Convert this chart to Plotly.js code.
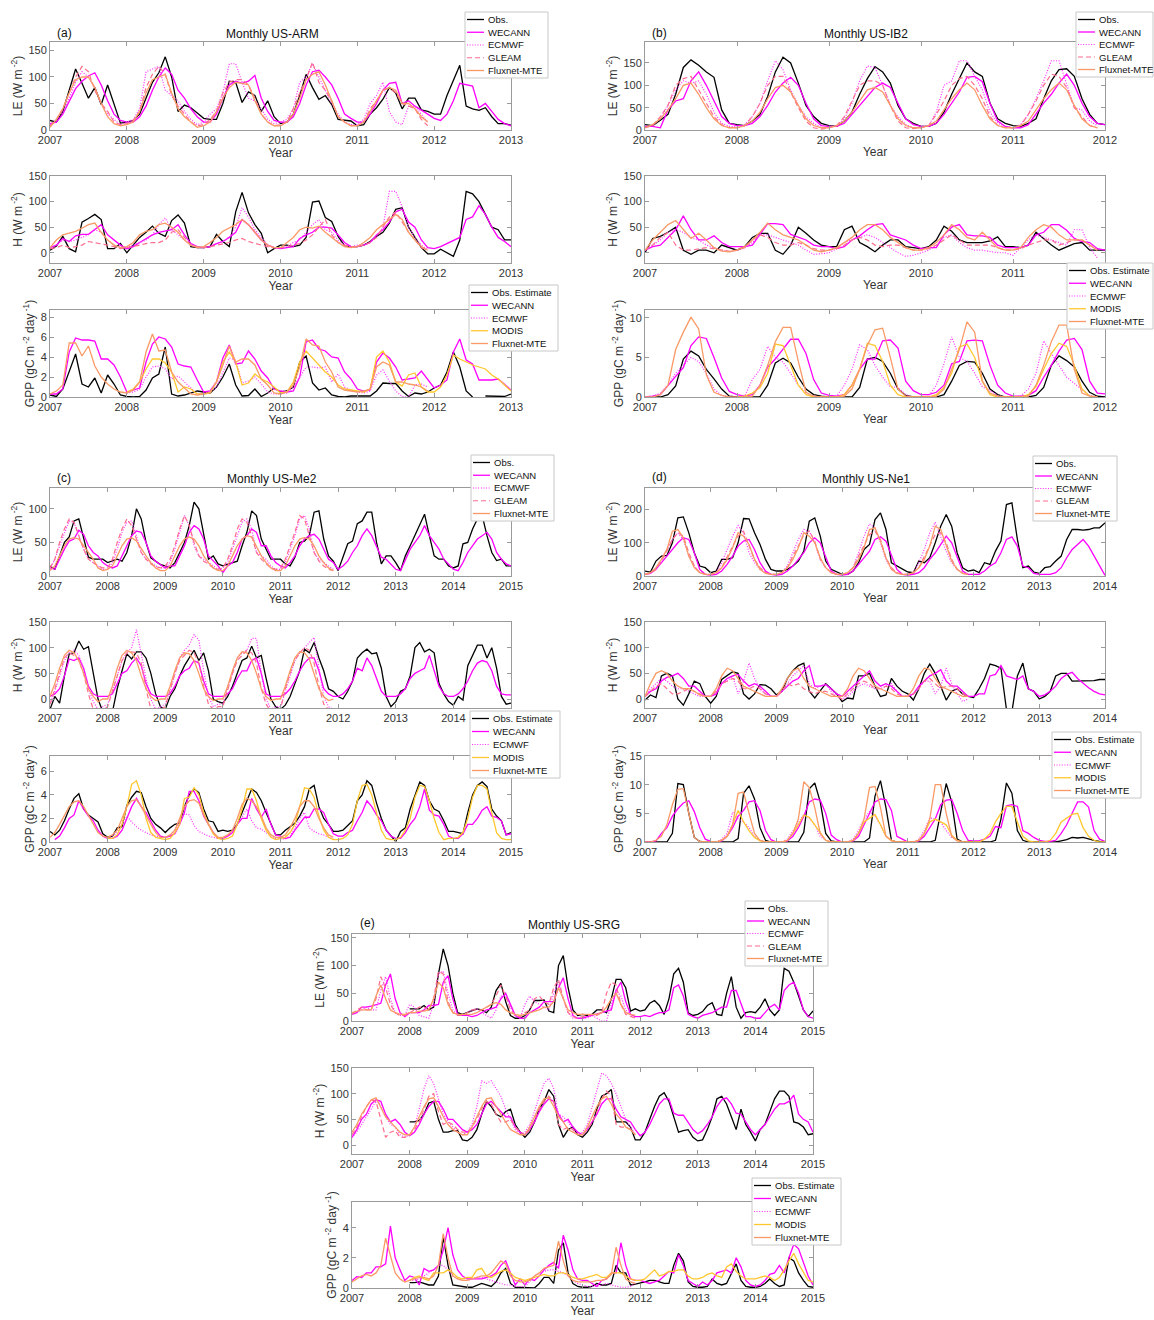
<!DOCTYPE html>
<html><head><meta charset="utf-8">
<script src="https://cdn.plot.ly/plotly-3.0.1.min.js"></script>
<style>body{margin:0;background:#fff}#chart{width:1154px;height:1320px}</style>
</head><body><div id="chart"></div>
<script>
// ---------------- names / ticks ----------------
const FLUX_NAMES = ['Obs.','WECANN','ECMWF','GLEAM','Fluxnet-MTE'];
const GPP_NAMES  = ['Obs. Estimate','WECANN','ECMWF','MODIS','Fluxnet-MTE'];
const YEARS_A = [2007,2008,2009,2010,2011,2012,2013];
const YEARS_B = [2007,2008,2009,2010,2011,2012];
const YEARS_C = [2007,2008,2009,2010,2011,2012,2013,2014,2015];
const YEARS_D = [2007,2008,2009,2010,2011,2012,2013,2014];
const YEARS_E = [2007,2008,2009,2010,2011,2012,2013,2014,2015];

// ---------------- (a) US-ARM (monthly from Jan 2007) ----------------
const aLE_obs=[18,15,35,75,115,88,60,80,48,85,50,13, 15,18,30,60,90,108,138,100,35,47,42,32, 22,20,20,50,92,90,52,72,65,35,55,25, 12,15,30,65,105,80,58,65,48,20,18,17, 8,10,30,42,58,80,70,40,60,60,38,35, 30,30,65,92,122,45,40,37,42,25,12,12, 9];
const aLE_wec=[12,15,30,55,78,92,102,108,85,55,30,18, 15,15,25,45,75,100,117,105,75,60,40,25, 15,15,30,60,85,92,88,92,103,60,35,18, 15,15,25,50,85,110,113,100,85,60,30,22, 15,15,30,50,75,88,90,50,55,45,38,30, 22,18,30,55,88,85,83,42,50,35,20,12, 8];
const aLE_ecm=[10,20,35,60,90,110,100,80,50,30,20,10, 15,20,40,110,115,120,75,65,55,35,20,10, 15,30,40,70,125,125,90,60,55,40,20,12, 15,20,40,90,100,125,100,75,50,30,15,10, 10,20,50,65,90,35,15,10,45,45,30,15];
const aLE_glm=[8,20,40,70,100,120,110,75,50,35,15,10, 12,18,35,80,105,120,105,65,45,30,15,8, 10,20,35,70,90,95,95,85,60,30,15,8, 10,15,40,70,95,128,90,75,55,25,15,8, 8,15,40,55,75,80,70,50,45,40,20,8];
const aLE_mte=[5,20,40,70,95,100,100,80,50,25,12,8, 10,15,35,70,95,100,105,70,40,25,15,5, 8,15,35,60,80,90,88,85,55,30,15,8, 8,15,30,60,95,105,110,85,55,25,15,8, 8,15,35,55,75,80,75,50,50,40,25,15];

const aH_obs=[5,13,32,8,2,60,67,75,65,8,8,18, 0,15,30,40,52,38,32,63,74,58,12,10, 10,12,36,22,12,80,118,78,55,38,0,8, 15,15,12,15,30,99,101,69,61,32,14,12, 12,15,22,32,40,58,85,88,50,30,10,-2, -2,7,0,-7,25,120,115,100,75,50,45,25, 25];
const aH_wec=[10,15,28,22,33,36,36,45,55,35,25,15, 8,12,20,27,35,40,42,45,55,35,18,12, 10,12,18,22,30,40,65,55,40,25,15,10, 8,10,12,28,35,40,50,50,48,35,20,12, 12,15,20,35,45,60,80,85,60,50,25,10, 8,12,18,24,30,65,70,92,75,50,30,22, 12];
const aH_ecm=[10,15,25,22,25,30,35,45,40,25,15,10, 10,15,20,25,35,55,68,45,35,25,15,10, 10,12,18,22,30,50,88,70,45,30,15,10, 10,12,20,25,40,55,65,45,40,25,15,12, 15,15,20,30,50,120,120,90,50,30,15,5];
const aH_glm=[8,10,15,10,12,15,22,20,18,15,12,8, 10,12,15,18,20,20,25,40,45,30,15,12, 10,12,15,18,20,25,28,22,18,15,12,10, 10,12,15,18,25,35,50,65,35,20,15,12, 12,15,20,30,50,70,80,60,40,25,10,5];
const aH_mte=[10,25,35,38,42,48,55,58,40,25,15,10, 12,20,35,42,45,55,58,50,40,25,15,10, 12,20,30,42,48,55,65,55,40,25,15,10, 10,20,30,45,50,48,52,40,30,20,12,10, 12,20,30,45,55,65,75,65,40,25,12,5];

const aGPP_obs=[0.2,0.05,0.8,2.5,4.3,1.3,1.0,1.9,0.4,2.2,1.3,0.2, 0.05,0.02,0.05,0.7,1.9,2.3,5.0,0.3,0.1,0.2,0.4,0.6, 0.5,0.4,1.0,2.0,3.3,1.2,0.1,0.15,0.8,0.05,0.4,0.9, 0.5,0.6,1.0,3.5,4.1,1.4,0.7,0.9,0.2,0.05,0.0,0.1, 0.1,0.1,0.1,0.6,1.4,1.35,1.35,0.6,0.05,0.4,0.3,0.5, 0.9,1.2,2.5,4.5,3.0,0.6,0.0,null,0.1,0.1,0.05,0.05, 0.3];
const aGPP_wec=[0.3,0.3,0.8,4.5,5.9,5.7,5.7,5.6,3.8,3.8,3.2,2.0, 0.5,0.7,0.9,3.5,5.3,6.0,5.8,5.0,3.3,3.1,3.0,1.7, 0.5,0.6,1.5,3.9,5.2,3.3,3.4,4.6,3.8,2.6,1.9,0.8, 0.6,0.5,0.6,2.0,5.5,5.7,4.8,4.6,4.0,3.9,2.5,1.8, 0.8,0.6,0.7,3.5,4.4,3.9,3.0,1.7,1.8,1.9,2.6,1.7, 0.9,1.2,1.7,4.5,5.8,3.7,3.3,1.7,1.7,1.7,1.8,1.2, 0.7];
const aGPP_ecm=[null,null,null,null,null,null,null,null,null,null,null,null, 0.4,0.5,0.8,2.0,3.0,3.1,2.8,1.8,2.1,1.5,0.8,0.3, 0.4,0.5,1.0,2.5,3.9,3.7,1.4,1.6,2.0,1.3,0.5,0.3, 0.3,0.4,1.0,2.0,3.0,3.0,2.9,3.0,1.5,2.3,1.0,0.7, 0.5,0.4,0.6,2.2,2.7,1.6,0.6,0.05,0.0,1.2,1.3,1.0];
const aGPP_mod=[null,null,null,null,null,null,null,null,null,null,null,null, 0.5,0.8,1.5,2.8,3.8,3.8,3.4,2.5,0.5,1.0,0.8,0.3, 0.3,0.4,1.5,3.5,4.5,3.5,1.2,1.4,2.3,1.8,1.5,1.0, 0.4,0.5,1.5,3.5,4.6,3.9,3.3,2.5,2.0,1.2,0.8,0.7, 0.6,0.5,0.8,4.0,4.6,3.5,1.5,1.1,2.2,2.4,1.0,0.5, 0.5,1.0,2.2,4.2,3.8,3.5,3.2,3.0,2.8,2.2,1.8,1.2, 0.6];
const aGPP_mte=[0.3,0.6,1.2,5.4,5.4,4.1,5.1,3.1,2.0,1.3,0.8,0.5, 0.4,0.7,1.5,4.5,6.3,4.6,4.7,2.5,1.5,0.9,0.3,0.2, 0.3,0.5,1.5,3.2,5.1,3.5,3.8,3.8,3.2,1.8,1.2,0.4, 0.3,0.5,1.2,3.0,5.8,5.2,5.1,3.5,2.5,1.0,0.7,0.6, 0.5,0.6,0.8,3.0,3.5,3.2,1.5,1.5,1.3,1.2,1.0,0.6];

// ---------------- (b) US-IB2 ----------------
const bLE_obs=[12,10,22,35,80,140,157,145,130,118,45,15, 12,10,20,35,75,130,163,150,105,55,30,15, 10,8,20,40,80,115,142,130,105,55,25,15, 8,8,15,40,80,115,150,130,120,60,25,15, 10,8,15,25,70,110,135,137,120,70,35,15, 12];
const bLE_wec=[8,8,5,45,65,70,110,130,100,65,30,15, 10,10,15,30,55,85,105,118,100,60,25,10, 8,8,15,35,55,75,95,105,95,60,25,12, 8,8,15,35,60,85,118,120,108,60,20,8, 5,5,12,35,60,80,105,125,100,60,30,15, 12];
const bLE_ecm=[5,10,25,55,90,110,105,110,80,40,15,8, 8,12,30,60,110,155,135,90,55,30,15,5, 5,10,25,60,110,143,140,100,55,30,12,5, 5,10,40,100,110,155,155,120,90,40,15,8, 5,12,35,70,110,155,155,105,50,45,20,10];
const bLE_glm=[5,10,30,55,100,115,120,90,60,30,12,5, 5,10,30,60,100,120,120,85,50,20,5,2, 5,10,30,65,100,110,110,100,55,20,5,3, 5,10,35,65,100,115,120,100,70,30,10,5, 5,10,35,65,100,125,120,95,50,30,10,5];
const bLE_mte=[5,12,25,45,70,100,105,80,50,25,10,5, 5,10,20,40,70,95,100,85,55,25,10,5, 5,10,20,40,65,90,95,85,55,25,10,5, 5,10,20,45,70,90,105,90,55,25,10,5, 5,10,20,45,70,90,105,90,55,25,10,5];

const bH_obs=[0,28,32,40,50,5,-3,5,5,0,15,10, 5,12,30,38,38,5,-3,15,50,38,25,15, 12,12,45,52,20,12,2,15,25,25,12,10, 8,12,25,52,42,25,20,20,20,23,31,12, 12,10,15,40,28,15,5,12,18,20,5,5, 5];
const bH_wec=[5,12,15,30,45,72,45,25,25,33,20,12, 12,12,15,35,57,57,55,36,31,25,15,12, 12,8,12,25,33,45,55,57,35,30,25,15, 8,10,10,35,50,55,35,33,33,30,15,10, 10,10,15,35,40,55,55,44,28,22,20,8, 5];
const bH_ecm=[5,15,25,40,45,40,30,25,15,10,5,2, 5,10,20,35,35,30,25,20,15,5,-3,-2, 0,8,20,25,30,35,30,20,10,0,-7,-5, 0,5,15,30,35,20,10,5,5,3,0,0, -5,10,25,35,30,25,20,15,45,45,10,-10];
const bH_glm=[5,15,30,40,15,5,5,8,10,8,5,3, 5,10,25,35,30,20,15,15,20,15,8,5, 5,8,15,25,30,25,15,12,15,15,10,5, 5,8,15,25,35,25,15,15,15,15,10,5, 5,8,15,20,25,25,15,20,25,25,15,5];
const bH_mte=[5,25,40,55,63,45,28,38,25,10,3,2, 5,12,25,40,58,45,35,30,25,15,5,2, 5,10,20,30,45,55,55,45,30,20,10,5, 5,10,20,35,55,45,30,25,40,25,10,5, 5,10,30,45,55,50,35,25,25,25,15,5];

const bGPP_obs=[0,0,0,0.3,1.4,4.8,5.8,5.2,3.5,2.3,1.0,0.1, 0,0,0,0.05,1.5,4.3,4.9,4.3,2.5,1.0,0.3,0.1, 0,0,0,0,1.2,4.8,5.0,4.5,3.0,1.0,0.2,0, 0,0,0,0.3,2.0,4.0,4.5,4.4,3.0,1.0,0.3,0, 0,0,0,0.2,1.2,4.0,5.2,4.6,3.8,2.0,0.6,0.1, 0];
const bGPP_wec=[0,0.1,0.3,1.5,2.6,3.7,6.5,7.6,7.4,5.0,2.4,0.7, 0.3,0.1,0.3,1.5,3.8,4.8,6.0,7.3,7.3,5.5,2.2,0.5, 0.2,0.1,0.3,1.5,3.5,4.8,4.8,7.1,7.2,6.2,2.0,0.8, 0.3,0.3,0.6,1.5,4.2,4.5,7.1,7.2,7.1,4.0,1.5,0.5, 0.1,0.1,0.2,0.8,2.5,4.0,5.8,7.2,7.4,6.0,2.0,0.5, 0.4];
const bGPP_ecm=[0,0.1,0.5,1.5,3.0,4.0,5.0,4.5,3.0,1.0,0.2,0, 0,0.1,2.2,3.5,6.4,5.0,4.4,3.0,1.5,0.5,0.1,0, 0,0.1,1.5,3.5,6.6,6.0,4.0,2.5,1.3,1.2,0.3,0, 0,0.1,1.5,4.2,7.6,5.0,4.5,3.0,1.3,0.8,0.2,0, 0,0.1,1.0,3.0,7.1,5.5,4.0,2.5,1.7,1.0,0.2,0];
const bGPP_mod=[null,null,null,null,null,null,null,null,null,null,null,null, 0,0.1,0.5,1.2,3.0,6.7,6.5,4.0,1.5,0.3,0,0, 0,0,0.3,1.5,3.5,6.8,6.5,4.5,1.5,0.3,0,0, 0,0,0.3,1.2,3.0,6.3,6.7,5.0,2.0,0.3,0,0, 0,0,0.3,1.3,3.5,5.5,6.8,6.4,4.0,1.0,0.1,0];
const bGPP_mte=[0,0,0.3,1.5,6.0,8.2,10.1,8.6,2.8,0.6,0.2,0, 0,0,0.1,1.5,4.0,7.0,8.8,8.8,4.5,0.6,0.1,0, 0,0,0.1,1.0,3.5,6.5,8.5,8.7,5.0,1.0,0.1,0, 0,0,0.1,1.0,3.5,6.0,9.5,8.2,2.0,0.5,0.1,0, 0,0,0.1,1.5,4.0,7.0,9.1,9.1,3.5,0.5,0.1,0];

// ---------------- (c) US-Me2 ----------------
const cLE_obs=[15,10,30,50,58,82,85,55,28,25,25,25, 20,22,25,22,35,60,100,85,50,27,22,17, 15,12,20,35,50,75,110,100,60,25,30,18, 15,17,20,22,45,65,97,90,55,40,25,25, 25,18,15,28,50,52,60,95,97,55,30,22, 8,28,48,52,78,82,95,95,50,18,30,30, 20,8,30,45,60,75,92,60,30,25,25,15, 12,15,48,50,70,85,90,60,35,23,25,15, 15];
const cLE_wec=[12,10,25,40,52,55,68,62,45,35,30,20, 15,12,15,30,45,60,67,65,50,30,22,17, 12,15,15,30,45,65,75,70,55,30,22,15, 5,15,20,35,55,60,70,65,45,45,30,20, 15,12,20,30,45,55,60,62,55,40,25,20, 10,15,22,35,45,60,70,60,45,28,25,18, 10,8,25,40,50,60,75,60,50,40,25,18, 10,8,20,35,45,55,60,65,55,35,25,18, 15];
const cLE_ecm=[10,25,45,65,82,80,60,40,25,20,15,10, 10,20,40,65,80,82,60,35,25,20,15,12, 12,20,40,65,90,75,45,30,25,20,15,10, 12,20,40,60,80,85,70,35,30,25,15,10, 10,20,40,60,85,90,70,35,25,20,15,10];
const cLE_glm=[12,25,50,70,85,80,60,40,25,20,15,12, 12,25,50,70,85,75,55,35,25,18,14,12, 15,25,45,70,90,75,50,30,22,18,12,10, 12,25,45,70,85,80,60,35,25,18,12,10, 12,25,45,65,90,85,60,35,22,15,10,8];
const cLE_mte=[8,15,30,45,55,57,55,45,35,25,12,8, 10,15,30,45,55,57,52,40,30,20,12,8, 8,15,30,45,55,58,55,45,30,20,12,8, 8,15,30,45,55,60,58,45,30,20,12,8, 8,15,30,45,55,57,55,45,30,20,12,8];

const cH_obs=[-20,5,-8,45,88,90,113,97,102,50,0,-25, -30,-25,20,55,88,78,92,92,80,50,10,-15, -20,5,20,45,65,80,95,75,90,55,0,-5, -8,5,25,50,75,80,103,80,85,40,0,-15, -20,-12,5,30,55,97,90,110,80,55,20,15, 5,0,15,35,80,90,97,88,90,60,5,-15, -5,15,20,45,100,110,92,97,90,30,10,-5, -12,5,-2,65,85,105,105,80,100,60,5,-10, -8];
const cH_wec=[5,10,20,45,78,75,80,60,25,10,5,5, 5,10,30,50,55,70,80,65,30,10,5,5, 5,10,25,45,55,60,75,70,35,10,5,5, 5,10,20,40,55,55,75,80,50,10,5,5, 5,10,20,35,55,70,80,80,55,20,10,5, 5,10,20,35,60,55,80,65,40,15,5,5, 5,10,20,40,50,55,60,85,55,25,10,5, 5,10,20,35,55,70,75,72,55,25,10,8, 8];
const cH_ecm=[-10,15,45,75,90,95,85,60,20,-5,-20,-15, -10,15,45,75,90,100,135,85,40,0,-20,-15, -10,15,50,80,95,105,125,115,55,5,-15,-10, -10,20,50,80,90,95,118,118,50,0,-20,-15, -15,15,45,75,90,100,110,120,60,5,-15,-20];
const cH_glm=[-10,20,50,80,90,85,75,50,10,-20,-30,-20, -15,15,45,75,90,92,90,70,20,-20,-30,-20, -15,20,50,75,85,95,90,70,25,-10,-20,-15, -15,20,50,75,85,95,90,70,20,-10,-25,-20, -20,20,50,75,90,100,95,70,25,-10,-20,-30];
const cH_mte=[5,30,60,85,95,90,75,50,20,5,-5,0, 0,25,60,85,95,90,75,45,20,5,-3,0, 0,25,55,80,90,88,75,50,20,5,-3,0, 0,25,55,80,92,90,75,50,20,5,-3,0, 0,25,55,80,92,90,78,50,20,5,-3,0];

const cGPP_obs=[0.9,0.6,1.0,1.8,2.8,3.7,4.1,2.8,2.3,2.0,1.7,0.7, 0.4,0.5,1.2,1.3,3.1,3.8,4.3,4.2,3.0,2.0,1.5,1.2, 0.8,1.2,1.5,1.6,3.0,4.0,4.5,4.2,2.8,1.8,1.7,0.9, 1.0,0.9,1.0,1.5,2.5,3.5,4.5,4.2,3.5,2.5,1.5,0.6, 0.6,1.0,1.3,1.6,2.2,3.0,4.5,4.8,3.0,2.0,1.5,0.9, 0.9,1.0,1.4,1.8,3.5,4.0,5.2,4.8,3.3,2.0,1.0,0.5, 0.05,0.9,1.2,2.8,4.0,5.1,4.8,3.5,2.8,2.6,1.8,0.9, 0.9,0.8,0.7,2.5,4.0,4.8,5.1,4.7,2.8,2.2,1.8,0.6, 0.8];
const cGPP_wec=[null,0.2,0.5,1.2,2.0,2.3,3.5,2.8,2.2,1.8,1.0,0.5, 0.3,0.3,0.5,1.0,2.0,3.0,3.7,3.0,2.5,1.8,1.0,0.5, 0.4,0.5,0.7,1.5,2.5,4.3,4.3,3.5,2.2,1.5,0.8,0.3, 0.3,0.5,0.8,1.5,2.0,2.0,3.7,2.8,2.1,2.8,1.5,0.6, 0.5,0.3,0.4,1.0,1.5,2.1,2.1,2.8,2.8,2.5,1.5,0.7, 0.5,0.5,0.8,1.0,1.8,2.5,3.5,3.0,2.3,1.8,1.0,0.5, 0.3,0.3,0.8,1.5,2.0,3.0,4.5,2.7,2.3,2.2,1.5,0.5, 0.3,0.3,0.7,1.5,1.5,2.0,2.7,3.0,2.2,2.1,1.8,0.6, 0.7];
const cGPP_ecm=[null,null,null,null,null,null,null,null,null,null,null,null, 0.3,0.5,0.8,1.5,2.2,1.7,1.3,1.0,0.8,0.6,0.5,0.4, 0.4,0.5,1.0,1.8,2.4,2.3,1.4,0.9,0.7,0.5,0.4,0.3, 0.3,0.5,0.8,1.5,2.2,2.8,1.8,1.2,1.1,0.8,0.5,0.3, 0.2,0.3,0.5,1.2,2.0,2.5,1.2,0.9,0.7,0.6,0.4,0.3];
const cGPP_mod=[null,null,null,null,null,null,null,null,null,null,null,null, 0.3,0.3,0.6,1.5,3.0,4.9,5.2,4.0,2.0,0.8,0.4,0.3, 0.2,0.3,0.8,1.5,3.7,3.8,4.6,4.0,2.5,1.5,0.7,0.3, 0.2,0.3,0.5,1.5,2.8,4.5,4.5,3.5,2.0,1.0,0.4,0.2, 0.3,0.4,0.8,1.5,3.0,4.6,4.5,3.8,2.2,1.0,0.4,0.2, 0.2,0.3,0.6,1.5,3.5,4.8,4.9,4.0,2.5,1.0,0.3,0.2, 0.2,0.4,1.0,2.0,3.8,4.8,4.7,3.5,2.0,0.8,0.2,0.3, 0.3,0.4,0.8,2.0,3.8,4.8,4.8,4.5,2.5,0.8,0.3,0.2, 0.2];
const cGPP_mte=[0.4,0.8,1.5,2.2,3.0,3.4,3.5,3.0,2.3,1.5,0.8,0.5, 0.4,0.6,1.0,2.0,3.0,3.5,3.6,3.0,2.2,1.5,0.8,0.4, 0.4,0.6,1.0,2.0,3.0,3.5,3.6,3.3,2.3,1.5,0.8,0.4, 0.4,0.6,1.0,2.0,3.2,3.7,3.5,3.0,2.2,1.2,0.6,0.4, 0.4,0.6,1.2,2.0,3.0,3.5,3.5,3.0,2.0,1.2,0.6,0.4];

// ---------------- (d) US-Ne1 ----------------
const dLE_obs=[15,12,45,60,62,100,175,178,130,70,30,25, 10,15,50,50,55,100,173,172,130,95,50,20, 15,15,20,30,45,75,165,175,120,45,20,12, 5,5,15,40,80,95,170,190,140,40,30,20, 12,10,45,40,55,100,150,185,150,70,25,15, 18,10,40,35,75,105,215,220,110,25,30,12, 8,25,28,45,60,110,140,140,138,140,145,145, 160];
const dLE_wec=[5,8,20,40,60,80,100,115,110,70,20,5, 3,5,15,35,60,90,105,110,80,40,15,5, 3,5,15,30,50,70,100,115,100,55,15,5, 3,5,15,35,55,75,110,118,105,60,20,5, 3,5,10,25,50,70,95,120,100,55,15,5, 5,5,15,30,40,70,110,118,90,30,25,8, 5,5,5,10,25,55,80,95,110,90,60,30, 2];
const dLE_ecm=[5,10,25,50,80,110,130,110,60,30,10,5, 5,10,40,80,120,152,130,70,40,20,10,5, 5,10,30,70,110,140,135,100,50,25,10,5, 5,10,25,70,120,157,145,100,50,20,10,5, 5,10,40,80,130,162,120,75,40,20,10,5];
const dLE_glm=[5,8,20,45,75,110,130,120,70,30,10,5, 5,10,25,60,90,120,135,90,50,25,10,5, 5,10,25,60,90,125,135,105,50,25,10,5, 5,10,25,60,95,125,135,110,55,25,10,5, 5,10,25,60,95,125,130,100,50,20,8,5];
const dLE_mte=[5,10,25,50,80,135,140,115,60,25,10,5, 5,10,25,50,85,130,120,95,50,20,8,5, 5,10,25,50,85,130,120,100,55,25,10,5, 5,10,25,50,85,140,145,105,55,20,8,5, 5,10,25,50,90,150,140,90,45,20,8,5];

const dH_obs=[-2,8,3,45,50,45,0,-12,10,35,30,5, -8,5,38,45,53,50,10,0,10,28,27,20, 8,15,40,55,65,70,15,2,15,30,20,10, -5,2,0,45,45,50,25,5,8,40,25,15, 10,-2,20,50,68,50,25,-2,15,20,10,5, 3,20,40,68,65,60,-20,-25,45,70,20,15, 0,5,15,45,50,50,35,35,35,35,36,38, 38];
const dH_wec=[5,15,20,35,42,45,50,40,25,25,15,5, 5,10,30,40,45,48,35,25,30,25,15,5, 5,15,25,35,40,55,65,25,25,28,20,10, 5,15,25,35,45,55,35,25,30,25,15,5, 5,10,25,35,45,50,57,35,25,25,15,5, 5,10,10,45,48,65,45,42,38,45,20,15, 5,8,15,25,40,48,52,40,30,22,15,10, 8];
const dH_ecm=[5,20,30,40,35,25,20,20,15,10,5,5, 5,15,30,35,45,10,35,70,40,20,10,5, 5,15,30,45,55,65,30,20,25,30,15,5, 0,5,15,25,30,25,20,20,25,30,15,5, 5,10,20,35,35,10,25,60,30,10,-5,0];
const dH_glm=[5,15,25,30,20,10,10,15,20,15,10,5, 5,15,30,35,40,35,20,20,25,20,10,5, 5,15,30,25,30,20,15,10,15,15,10,5, 0,10,20,30,35,30,20,20,25,20,10,5, 5,10,20,35,40,30,20,25,25,20,10,5];
const dH_mte=[5,30,50,55,50,35,25,20,20,15,8,5, 5,20,45,60,55,40,25,20,15,10,5,5, 5,20,40,55,60,40,25,20,15,10,5,5, 5,20,45,60,55,40,25,20,15,10,5,5, 5,20,45,60,58,40,25,20,15,10,5,5];

const dGPP_obs=[0,0,0,0,0,1.5,10.2,10.0,5.0,0.8,0.1,0, 0,0,0,0,0,0.6,8.5,9.8,7.5,2.5,0.3,0, 0,0,0,0,0,1.7,9.3,10.3,7.0,1.5,0.2,0, 0,0,0,0,0,0.7,8.0,10.7,6.0,0.3,0,0, 0,0,0,0,0,0.3,5.0,10.2,7.0,0.5,0,0, 0,0,0,0,0.3,4.0,10.3,8.5,2.0,0.3,0,0, 0,0,0,0,0.2,0.4,0.8,0.7,0.8,0.5,0.3,0.1, 0];
const dGPP_wec=[0,0,0.2,1.5,2.5,4.5,5.8,6.8,7.2,5.3,2.5,0.5, 0.1,0,0.2,1.0,2.5,4.5,5.5,7.0,7.2,5.5,2.0,0.4, 0,0,0.2,1.0,2.5,4.5,7.0,7.5,7.3,5.0,1.2,0.4, 0,0,0.2,1.0,3.0,5.0,7.0,7.5,7.4,5.5,1.0,0.5, 0,0,0.2,1.0,2.5,4.0,6.5,7.3,7.4,5.0,2.0,0.3, 0.2,0.2,0.5,1.0,2.7,2.5,6.3,6.5,6.2,2.0,1.5,0.8, 0.3,0.1,0.1,0.3,1.5,3.0,5.0,7.0,7.0,6.1,2.0,0.5, 0.1];
const dGPP_ecm=[null,null,null,null,null,null,null,null,null,null,null,null, 0,0,0.5,1.5,5.2,4.0,3.5,2.5,1.0,0.3,0,0, 0,0,0.5,2.0,3.5,4.8,4.2,3.0,1.0,0.3,0,0, 0,0,0.5,2.0,4.0,5.3,4.5,3.0,1.0,0.3,0,0, 0,0,0.5,2.0,4.2,4.0,3.5,2.0,0.8,0.3,0,0];
const dGPP_mod=[null,null,null,null,null,null,null,null,null,null,null,null, 0,0,0.3,1.0,3.0,5.5,3.5,2.0,0.8,0.2,0,0, 0,0,0.3,1.5,3.0,4.7,4.3,3.0,1.5,0.3,0,0, 0,0,0.3,1.5,3.5,4.2,4.8,3.0,1.0,0.3,0,0, 0,0,0.3,1.5,3.5,4.0,3.5,3.0,1.2,0.3,0,0, 0,0,0.5,1.5,3.5,5.0,6.2,6.2,3.5,1.0,0.2,0, 0,0,0.3,1.5,3.5,4.2,4.8,5.0,2.5,1.0,0.3,0, 0];
const dGPP_mte=[0,0,0.3,1.0,3.0,6.5,9.2,9.3,5.0,0.8,0.1,0, 0,0,0.3,1.0,3.0,8.5,8.7,5.0,1.5,0.3,0,0, 0,0,0.3,1.5,4.0,10.5,9.5,6.0,1.5,0.3,0,0, 0,0,0.3,1.5,4.0,9.5,9.7,6.0,1.0,0.2,0,0, 0,0,0.3,1.5,4.0,10.0,10.0,5.0,1.0,0.2,0,0];

// ---------------- (e) US-SRG ----------------
const eLE_obs=[null,null,null,null,null,null,null,null,null,null,null,null, 22,22,22,28,20,25,85,130,100,50,15,12, 15,18,22,20,15,25,55,68,35,10,5,5, 10,20,37,37,38,18,15,100,118,60,20,10, 12,10,12,20,20,15,40,75,75,60,18,22, 18,20,32,37,28,12,40,85,95,70,15,10, 12,17,28,33,12,10,50,80,25,5,15,17, 15,25,40,20,10,20,95,90,70,45,20,8, 18];
const eLE_wec=[12,15,25,25,27,30,32,65,85,40,15,8, 15,15,15,20,28,28,30,70,82,40,12,10, 10,8,10,15,20,22,25,40,50,30,10,5, 5,15,20,25,35,35,35,60,78,40,10,5, 5,8,10,12,15,18,20,55,70,35,12,8, 8,10,8,12,15,15,20,60,65,45,12,8, 5,10,12,15,20,25,25,55,55,30,8,8, 5,5,15,25,30,20,55,65,70,50,20,8, 5];
const eLE_ecm=[12,15,20,25,20,20,55,80,40,15,10,10, 30,25,10,8,5,30,85,90,50,20,10,10, 15,20,22,15,10,5,20,45,45,25,10,5, 30,45,35,30,25,20,50,70,40,15,5,5, 5,5,10,5,0,0,30,55,45,20,10,5];
const eLE_glm=[12,20,25,20,20,40,80,60,30,15,10,10, 15,20,25,25,20,40,90,85,35,15,10,10, 15,20,20,20,25,30,45,65,45,20,10,8, 15,20,40,45,35,30,60,75,40,15,8,5, 8,10,12,10,15,50,70,65,30,12,8,5];
const eLE_mte=[15,18,20,20,20,45,65,40,20,15,12,12, 15,15,18,18,20,40,70,60,30,15,12,12, 12,12,15,20,25,30,33,30,20,15,12,10, 12,15,18,20,25,25,35,60,40,20,15,12, 12,12,12,12,15,25,40,50,30,15,12,10];

const eH_obs=[null,null,null,null,null,null,null,null,null,null,null,null, 45,45,48,60,82,85,50,25,25,28,28,10, 8,15,30,60,85,75,60,55,65,70,40,25, 15,25,45,70,85,108,95,40,15,30,35,20, 15,25,40,70,95,100,108,45,45,45,35,10, 10,25,50,75,95,102,85,55,25,28,30,15, 8,10,30,55,90,95,80,55,30,70,40,25, 8,30,40,65,90,105,105,95,45,42,35,20, 22];
const eH_wec=[15,30,50,60,80,88,85,60,45,50,40,25, 18,25,40,60,75,85,85,70,50,50,40,30, 25,30,40,60,80,85,75,65,55,55,35,25, 20,30,45,65,80,90,85,60,45,50,35,25, 20,30,45,60,80,90,90,70,55,50,45,30, 18,25,40,60,80,90,90,62,58,58,45,30, 22,28,40,55,75,88,92,80,62,60,45,30, 20,30,40,55,70,80,80,85,97,60,50,45, 25];
const eH_ecm=[15,25,40,55,70,85,80,55,40,35,20,15, 20,35,70,110,135,120,90,60,45,35,25,20, 25,40,75,125,120,125,110,95,70,50,30,20, 25,40,65,95,120,130,110,60,55,45,30,20, 25,40,75,110,140,135,120,100,75,50,35,20];
const eH_glm=[20,35,55,75,88,85,50,15,25,28,15,15, 20,30,45,70,95,100,65,40,45,40,30,25, 25,35,50,70,85,80,60,45,45,50,35,25, 20,30,50,70,85,95,85,40,30,35,30,20, 20,30,45,65,90,105,95,40,35,35,30,20];
const eH_mte=[25,40,60,75,88,92,75,55,45,35,25,20, 20,35,55,75,90,92,75,55,40,30,25,20, 20,35,55,75,90,92,75,60,45,30,25,20, 20,35,55,75,90,92,75,55,45,30,25,20, 20,35,55,75,90,95,80,60,50,35,30,20];

const eGPP_obs=[null,null,null,null,null,null,null,null,null,null,null,null, 0.35,0.35,0.4,0.3,0.2,0.2,0.8,3.4,1.5,0.2,0.15,0.1, 0.05,0.05,0.2,0.3,0.2,0.1,0.4,1.0,1.3,0.3,0.05,0.05, 0.05,0.0,0.0,0.3,0.7,0.7,0.3,2.5,3.0,1.0,0.3,0.1, 0.05,0.05,0.1,0.3,0.2,0.2,0.3,1.5,1.0,1.0,0.2,0.25, 0.3,0.4,0.5,0.5,0.4,0.3,0.3,1.5,2.3,1.8,0.4,0.1, 0.05,0.05,0.1,0.6,0.3,0.2,0.3,1.0,1.6,0.5,0.1,0.05, 0.05,0.1,0.3,0.6,0.3,0.1,0.2,2.0,1.8,1.0,0.5,0.1, 0.05];
const eGPP_wec=[0.5,0.75,0.7,1.0,1.0,1.4,1.4,1.6,4.1,2.0,1.2,0.5, 0.8,0.7,0.2,1.3,1.1,1.2,1.5,2.5,4.0,2.2,1.2,0.8, 0.6,0.6,0.6,0.6,0.7,0.8,1.0,1.5,1.8,1.0,0.2,0.6, 0.2,0.6,0.5,0.8,1.2,1.5,1.7,1.3,3.5,2.5,1.2,0.6, 0.5,0.5,0.3,0.1,0.5,0.6,1.0,1.0,3.0,1.5,0.6,0.5, 0.5,0.4,0.3,0.4,0.5,0.8,1.1,1.0,2.2,1.5,0.5,0.3, 0.1,0.4,0.2,0.5,1.0,1.1,1.2,1.0,2.0,1.4,0.5,0.2, 0.1,0.2,0.5,0.9,1.0,1.5,1.0,2.0,2.9,2.6,1.7,0.8, 0.2];
const eGPP_ecm=[null,null,null,null,null,null,null,null,null,null,null,null, 0.5,0.5,0.6,0.8,1.0,1.2,1.5,1.5,1.2,0.8,0.6,0.5, 0.5,0.6,0.7,0.7,0.6,0.5,0.4,0.3,0.2,0.2,0.1,0.1, 0.1,0.4,0.8,1.0,1.1,1.2,1.2,1.1,1.0,0.8,0.5,0.3, 0.2,0.1,0.1,0.1,0.2,0.3,0.2,0.1,0.05,0.05,0.1,0.3];
const eGPP_mod=[null,null,null,null,null,null,null,null,null,null,null,null, 0.5,0.7,0.8,0.6,0.5,1.0,1.0,1.0,1.2,1.0,0.7,0.6, 0.7,0.7,1.2,1.3,0.8,0.7,0.9,1.1,1.2,1.0,0.7,0.6, 0.5,0.6,0.7,0.8,0.9,0.8,0.8,1.0,1.0,0.9,0.7,0.6, 0.6,0.7,0.8,0.9,0.7,0.7,1.0,1.0,1.0,0.8,0.6,0.5, 0.5,0.6,0.9,1.2,0.8,0.9,1.1,1.1,1.2,1.2,0.8,0.6, 0.6,0.7,0.9,1.0,0.8,0.7,1.4,1.6,1.1,0.8,0.6,0.6, 0.6,0.7,0.8,0.7,0.5,0.7,1.2,1.8,2.3,1.6,1.0,0.5, 0.4];
const eGPP_mte=[0.4,0.6,0.8,0.9,0.8,1.0,1.5,3.3,2.2,1.0,0.6,0.4, 0.5,0.6,0.7,0.7,0.6,0.8,1.5,3.6,2.0,0.8,0.6,0.5, 0.5,0.6,0.7,0.8,0.8,1.0,1.4,1.8,1.6,0.8,0.5,0.4, 0.4,0.5,0.8,1.0,1.3,1.4,1.5,3.1,1.8,0.8,0.5,0.4, 0.4,0.4,0.4,0.5,0.5,0.6,0.9,2.7,1.5,0.6,0.4,0.3];

// ---------------- styles ----------------
const STYLE = {
  obs:{color:'#000000', width:1.3, dash:'solid'},
  wec:{color:'#ff00ff', width:1.3, dash:'solid'},
  ecm:{color:'#ff2bff', width:1.2, dash:'1px,1.6px'},
  glm:{color:'#ff6d8e', width:1.2, dash:'5px,3px'},
  mod:{color:'#ffc72e', width:1.3, dash:'solid'},
  mte:{color:'#f99a66', width:1.3, dash:'solid'}
};
const FLUX_KEYS = ['obs','wec','ecm','glm','mte'];
const GPP_KEYS  = ['obs','wec','ecm','mod','mte'];
const LE_T  = 'LE (W m<sup> -2</sup>)';
const H_T   = 'H (W m<sup> -2</sup>)';
const GPP_T = 'GPP (gC m<sup> -2</sup> day<sup> -1</sup>)';

const PANELS = [
 {label:'(a)', title:'Monthly US-ARM', x0:50, x1:511, years:YEARS_A, lab:[55,33], tit:[272,34],
  rows:[
   {yt:LE_T, top:42, bot:130, range:[0,166], ticks:[0,50,100,150], data:[aLE_obs,aLE_wec,aLE_ecm,aLE_glm,aLE_mte], keys:FLUX_KEYS, names:FLUX_NAMES, leg:[465,12,548,78]},
   {yt:H_T, top:176, bot:263, range:[-20,150], ticks:[0,50,100,150], data:[aH_obs,aH_wec,aH_ecm,aH_glm,aH_mte], keys:FLUX_KEYS},
   {yt:GPP_T, top:310, bot:397, range:[0,8.7], ticks:[0,2,4,6,8], data:[aGPP_obs,aGPP_wec,aGPP_ecm,aGPP_mod,aGPP_mte], keys:GPP_KEYS, names:GPP_NAMES, leg:[469,285,558,351]}
  ]},
 {label:'(b)', title:'Monthly US-IB2', x0:645, x1:1105, years:YEARS_B, lab:[650,33], tit:[866,34],
  rows:[
   {yt:LE_T, top:42, bot:130, range:[0,197], ticks:[0,50,100,150], data:[bLE_obs,bLE_wec,bLE_ecm,bLE_glm,bLE_mte], keys:FLUX_KEYS, names:FLUX_NAMES, leg:[1076,12,1153,77]},
   {yt:H_T, top:176, bot:263, range:[-20,150], ticks:[0,50,100,150], data:[bH_obs,bH_wec,bH_ecm,bH_glm,bH_mte], keys:FLUX_KEYS, hideLast:true},
   {yt:GPP_T, top:310, bot:397, range:[0,11], ticks:[0,5,10], data:[bGPP_obs,bGPP_wec,bGPP_ecm,bGPP_mod,bGPP_mte], keys:GPP_KEYS, names:GPP_NAMES, leg:[1067,263,1153,329]}
  ]},
 {label:'(c)', title:'Monthly US-Me2', x0:50, x1:511, years:YEARS_C, lab:[55,478], tit:[272,479],
  rows:[
   {yt:LE_T, top:488, bot:576, range:[0,131], ticks:[0,50,100], data:[cLE_obs,cLE_wec,cLE_ecm,cLE_glm,cLE_mte], keys:FLUX_KEYS, names:FLUX_NAMES, leg:[471,455,554,521]},
   {yt:H_T, top:622, bot:708, range:[-17.5,150], ticks:[0,50,100,150], data:[cH_obs,cH_wec,cH_ecm,cH_glm,cH_mte], keys:FLUX_KEYS, hideLast:true},
   {yt:GPP_T, top:756, bot:842, range:[0,7.3], ticks:[0,2,4,6], data:[cGPP_obs,cGPP_wec,cGPP_ecm,cGPP_mod,cGPP_mte], keys:GPP_KEYS, names:GPP_NAMES, leg:[470,711,560,778]}
  ]},
 {label:'(d)', title:'Monthly US-Ne1', x0:645, x1:1105, years:YEARS_D, lab:[650,477], tit:[866,479],
  rows:[
   {yt:LE_T, top:488, bot:576, range:[0,265], ticks:[0,100,200], data:[dLE_obs,dLE_wec,dLE_ecm,dLE_glm,dLE_mte], keys:FLUX_KEYS, names:FLUX_NAMES, leg:[1033,456,1117,521]},
   {yt:H_T, top:622, bot:708, range:[-17.5,150], ticks:[0,50,100,150], data:[dH_obs,dH_wec,dH_ecm,dH_glm,dH_mte], keys:FLUX_KEYS},
   {yt:GPP_T, top:756, bot:842, range:[0,15], ticks:[0,5,10,15], data:[dGPP_obs,dGPP_wec,dGPP_ecm,dGPP_mod,dGPP_mte], keys:GPP_KEYS, names:GPP_NAMES, leg:[1052,732,1141,798]}
  ]},
 {label:'(e)', title:'Monthly US-SRG', x0:352, x1:813, years:YEARS_E, lab:[358,923], tit:[574,925],
  rows:[
   {yt:LE_T, top:934, bot:1021, range:[0,157], ticks:[0,50,100,150], data:[eLE_obs,eLE_wec,eLE_ecm,eLE_glm,eLE_mte], keys:FLUX_KEYS, names:FLUX_NAMES, leg:[745,901,828,966]},
   {yt:H_T, top:1068, bot:1154, range:[-17.5,150], ticks:[0,50,100,150], data:[eH_obs,eH_wec,eH_ecm,eH_glm,eH_mte], keys:FLUX_KEYS},
   {yt:GPP_T, top:1202, bot:1288, range:[0,5.7], ticks:[0,2,4], data:[eGPP_obs,eGPP_wec,eGPP_ecm,eGPP_mod,eGPP_mte], keys:GPP_KEYS, names:GPP_NAMES, leg:[752,1178,841,1245]}
  ]}
];

// ---------------- build ----------------
const W = 1154, H = 1320;
const px = v => v / W;
const py = v => 1 - v / H;
const FONT = 'Liberation Sans, Arial, sans-serif';
const AX = '#9a9a9a', TXT = '#333333';

const traces = [];
const layout = {
  width: W, height: H, margin:{l:0,r:0,t:0,b:0},
  paper_bgcolor:'#ffffff', plot_bgcolor:'#ffffff',
  showlegend:false, font:{family:FONT, size:11, color:TXT},
  annotations:[], shapes:[]
};

let k = 0;
PANELS.forEach(P => {
  const y0 = P.years[0], y1 = P.years[P.years.length-1];
  layout.annotations.push({text:P.label, x:px(P.lab[0]), y:py(P.lab[1]), xref:'paper', yref:'paper',
    xanchor:'left', yanchor:'middle', showarrow:false, font:{size:12, color:'#111'}});
  layout.annotations.push({text:P.title, x:px(P.tit[0]), y:py(P.tit[1]), xref:'paper', yref:'paper',
    xanchor:'center', yanchor:'middle', showarrow:false, font:{size:12, color:'#111'}});
  P.rows.forEach(R => {
    k += 1;
    const xa = 'xaxis' + (k===1?'':k), ya = 'yaxis' + (k===1?'':k);
    const xr = 'x' + (k===1?'':k), yr = 'y' + (k===1?'':k);
    const xt = P.years.map((v, i) => (R.hideLast && i === P.years.length-1) ? '' : String(v));
    layout[xa] = {
      domain:[px(P.x0), px(P.x1)], anchor:yr, range:[y0, y1],
      tickmode:'array', tickvals:P.years, ticktext:xt,
      ticks:'inside', ticklen:4, tickcolor:AX, showline:true, linecolor:AX, linewidth:1,
      mirror:'ticks', showgrid:false, zeroline:false, automargin:false,
      tickfont:{size:11, color:TXT},
      title:{text:'Year', font:{size:12, color:TXT}, standoff:2}
    };
    layout[ya] = {
      domain:[py(R.bot), py(R.top)], anchor:xr, range:R.range,
      tickmode:'array', tickvals:R.ticks, ticktext:R.ticks.map(String),
      ticks:'inside', ticklen:4, tickcolor:AX, showline:true, linecolor:AX, linewidth:1,
      mirror:'ticks', showgrid:false, zeroline:false, automargin:false,
      tickfont:{size:11, color:TXT},
      title:{text:R.yt, font:{size:12, color:TXT}, standoff:3}
    };
    R.data.forEach((arr, j) => {
      const st = STYLE[R.keys[j]];
      traces.push({
        type:'scatter', mode:'lines', xaxis:xr, yaxis:yr,
        name:(R.names||FLUX_NAMES)[j],
        x: arr.map((_, i) => y0 + i/12), y: arr,
        line:{color:st.color, width:st.width, dash:st.dash},
        connectgaps:false, hoverinfo:'skip'
      });
    });
    if (R.leg) {
      const [lx0, ly0, lx1, ly1] = R.leg;
      layout.shapes.push({type:'rect', xref:'paper', yref:'paper', x0:px(lx0), x1:px(lx1), y0:py(ly1), y1:py(ly0),
        line:{color:'#c8c8c8', width:1}, fillcolor:'#ffffff', layer:'above'});
      const step = (ly1 - ly0 - 15) / 4;
      R.names.forEach((nm, j) => {
        const st = STYLE[R.keys[j]];
        const yy = ly0 + 7.5 + j*step;
        layout.shapes.push({type:'line', xref:'paper', yref:'paper', x0:px(lx0+2), x1:px(lx0+19), y0:py(yy), y1:py(yy),
          line:{color:st.color, width:st.width, dash:st.dash}, layer:'above'});
        layout.annotations.push({text:nm, x:px(lx0+21), y:py(yy), xref:'paper', yref:'paper',
          xanchor:'left', yanchor:'middle', showarrow:false, font:{size:9.5, color:'#111'}});
      });
    }
  });
});

Plotly.newPlot('chart', traces, layout, {staticPlot:true, displayModeBar:false});
</script>
</body></html>
